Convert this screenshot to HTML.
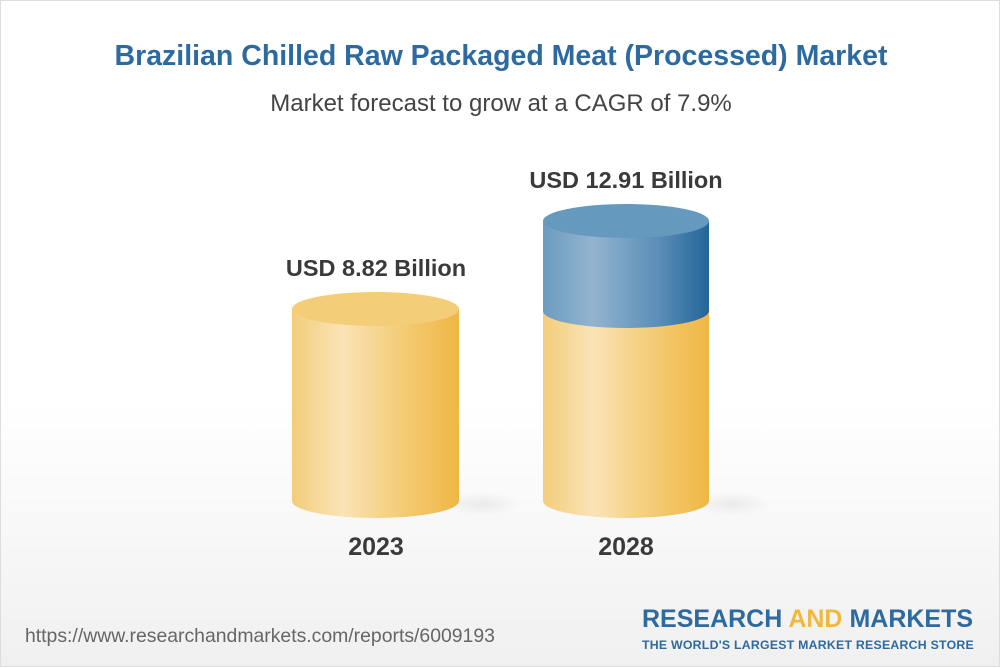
<!DOCTYPE html>
<html><head><meta charset="utf-8"><style>
body{margin:0;width:1000px;height:667px;overflow:hidden;font-family:"Liberation Sans",Arial,sans-serif;}
.wrap{position:absolute;left:0;top:0;width:998px;height:665px;border:1px solid #ddd;background:linear-gradient(#fff 0%,#fff 60%,#f0f0f0 100%);}
.t{position:absolute;left:0;width:1000px;text-align:center;white-space:nowrap;}
</style></head><body><div class="wrap">
<div class="t" style="top:39px;font-size:28.5px;font-weight:bold;color:#2d6aa0;">Brazilian Chilled Raw Packaged Meat (Processed) Market</div>
<div class="t" style="top:89px;font-size:24px;color:#444;">Market forecast to grow at a CAGR of 7.9%</div>
<svg width="1000" height="667" style="position:absolute;left:0;top:0">
<defs>
<linearGradient id="y" x1="0" x2="1"><stop offset="0" stop-color="#f3cd7a"/><stop offset="0.3" stop-color="#fae3b6"/><stop offset="0.7" stop-color="#f3c96f"/><stop offset="1" stop-color="#efb744"/></linearGradient>
<linearGradient id="b" x1="0" x2="1"><stop offset="0" stop-color="#6b9cc0"/><stop offset="0.3" stop-color="#93b4cf"/><stop offset="0.7" stop-color="#5a8db7"/><stop offset="1" stop-color="#236699"/></linearGradient>
<radialGradient id="sh"><stop offset="0" stop-color="#000" stop-opacity="0.06"/><stop offset="1" stop-color="#000" stop-opacity="0"/></radialGradient>
</defs>
<ellipse cx="480" cy="503" rx="40" ry="12" fill="url(#sh)"/>
<ellipse cx="730" cy="503" rx="40" ry="12" fill="url(#sh)"/>
<path d="M291 308 V500 A83.5 17 0 0 0 458 500 V308 Z" fill="url(#y)"/>
<ellipse cx="374.5" cy="308" rx="83.5" ry="17" fill="#f4cd78"/>
<path d="M542 310 V500 A83 17 0 0 0 708 500 V310 Z" fill="url(#y)"/>
<path d="M542 220 V310 A83 17 0 0 0 708 310 V220 Z" fill="url(#b)"/>
<ellipse cx="625" cy="220" rx="83" ry="17" fill="#6699be"/>
</svg>
<div class="t" style="left:275px;width:200px;top:254px;font-size:23.5px;font-weight:bold;color:#3a3a3a;">USD 8.82 Billion</div>
<div class="t" style="left:525px;width:200px;top:166px;font-size:23.5px;font-weight:bold;color:#3a3a3a;">USD 12.91 Billion</div>
<div class="t" style="left:275px;width:200px;top:532px;font-size:25px;font-weight:bold;color:#3a3a3a;">2023</div>
<div class="t" style="left:525px;width:200px;top:532px;font-size:25px;font-weight:bold;color:#3a3a3a;">2028</div>
<div style="position:absolute;left:24px;top:624px;font-size:19.4px;color:#666;">https://www.researchandmarkets.com/reports/6009193</div>
<div style="position:absolute;left:641px;top:604px;font-size:25px;font-weight:bold;color:#2d6aa0;letter-spacing:0px;">RESEARCH <span style="color:#f0b93e">AND</span> MARKETS</div>
<div style="position:absolute;left:641px;top:637px;font-size:12.3px;font-weight:bold;color:#2d6aa0;letter-spacing:0.25px;">THE WORLD'S LARGEST MARKET RESEARCH STORE</div>
</div></body></html>
